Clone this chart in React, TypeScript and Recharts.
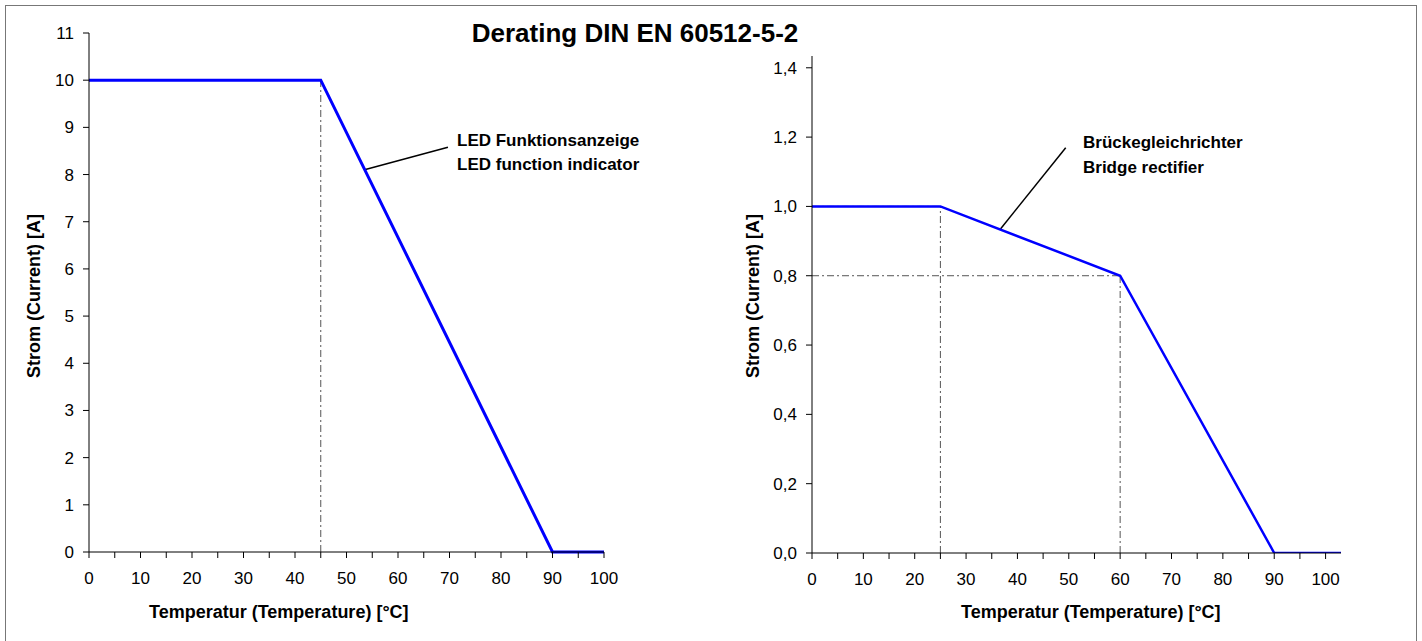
import React from 'react';
import { LineChart, Line, XAxis, YAxis, ReferenceLine } from 'recharts';

// left chart: LED function indicator
const ledTemps = [0, 45, 90, 100];
const ledCurrent = [10, 10, 0, 0];
const ledXTicks = [0, 5, 10, 15, 20, 25, 30, 35, 40, 45, 50, 55, 60, 65, 70, 75, 80, 85, 90, 95, 100];
const ledYTicks = [0, 1, 2, 3, 4, 5, 6, 7, 8, 9, 10, 11];
const ledGuides = [
    [{ x: 45, y: 0 }, { x: 45, y: 10 }],
    [{ x: 0, y: 10 }, { x: 45, y: 10 }],
];
const ledLeader = [{ x: 53.5, y: 8.1 }, { x: 69.7, y: 8.58 }];

// right chart: bridge rectifier
const bridgeTemps = [0, 25, 60, 90, 103];
const bridgeCurrent = [1, 1, 0.8, 0, 0];
const bridgeXTicks = [0, 5, 10, 15, 20, 25, 30, 35, 40, 45, 50, 55, 60, 65, 70, 75, 80, 85, 90, 95, 100];
const bridgeYTicks = [0, 0.2, 0.4, 0.6, 0.8, 1.0, 1.2, 1.4];
const bridgeGuides = [
    [{ x: 25, y: 0 }, { x: 25, y: 1 }],
    [{ x: 0, y: 1 }, { x: 25, y: 1 }],
    [{ x: 60, y: 0 }, { x: 60, y: 0.8 }],
    [{ x: 0, y: 0.8 }, { x: 60, y: 0.8 }],
];
const bridgeLeader = [{ x: 36.7, y: 0.935 }, { x: 49.4, y: 1.169 }];

const ledData = ledTemps.map((t, i) => ({ t, current: ledCurrent[i] }));
const bridgeData = bridgeTemps.map((t, i) => ({ t, current: bridgeCurrent[i] }));

const FONT = '"Liberation Sans", Arial, sans-serif';
const tickStyle = { fontSize: 17, fill: '#000' };
const guideDash = '7 3 2 3';

const xTickFormat = (v: number) => (v % 10 === 0 ? String(v) : '');
const commaFormat = (v: number) => v.toFixed(1).replace('.', ',');

const App: React.FC = () => {
    return (
        <div style={{ position: 'absolute', left: 0, top: 0, width: 1422, height: 641, background: '#fff', fontFamily: FONT, overflow: 'hidden' }}>
            <div style={{ position: 'absolute', left: 5, top: 5, width: 1410, height: 650, border: '1px solid #777' }} />

            <div style={{ position: 'absolute', left: 0, top: 0 }}>
                <LineChart width={700} height={641} data={ledData} margin={{ top: 33, right: 96, left: 49, bottom: 59 }}>
                    <XAxis
                        type="number"
                        dataKey="t"
                        domain={[0, 100]}
                        ticks={ledXTicks}
                        interval={0}
                        tickFormatter={xTickFormat}
                        tick={tickStyle}
                        tickSize={6}
                        tickMargin={14}
                        height={30}
                        axisLine={{ stroke: '#000' }}
                        tickLine={{ stroke: '#000' }}
                    />
                    <YAxis
                        type="number"
                        domain={[0, 11]}
                        ticks={ledYTicks}
                        interval={0}
                        tick={tickStyle}
                        tickSize={6}
                        tickMargin={9}
                        width={40}
                        axisLine={{ stroke: '#000' }}
                        tickLine={{ stroke: '#000' }}
                    />
                    {ledGuides.map((seg, i) => (
                        <ReferenceLine key={i} segment={seg} stroke="#555" strokeDasharray={guideDash} />
                    ))}
                    <ReferenceLine segment={ledLeader} stroke="#000" strokeWidth={1.5} />
                    <Line type="linear" dataKey="current" stroke="#0000ff" strokeWidth={3} dot={false} isAnimationActive={false} />
                </LineChart>
            </div>

            <div style={{ position: 'absolute', left: 700, top: 0 }}>
                <LineChart width={722} height={641} data={bridgeData} margin={{ top: 56, right: 81, left: 62, bottom: 58 }}>
                    <XAxis
                        type="number"
                        dataKey="t"
                        domain={[0, 103]}
                        ticks={bridgeXTicks}
                        interval={0}
                        tickFormatter={xTickFormat}
                        tick={tickStyle}
                        tickSize={6}
                        tickMargin={14}
                        height={30}
                        axisLine={{ stroke: '#000' }}
                        tickLine={{ stroke: '#000' }}
                    />
                    <YAxis
                        type="number"
                        domain={[0, 1.434]}
                        ticks={bridgeYTicks}
                        interval={0}
                        tickFormatter={commaFormat}
                        tick={tickStyle}
                        tickSize={6}
                        tickMargin={9}
                        width={50}
                        allowDataOverflow
                        axisLine={{ stroke: '#000' }}
                        tickLine={{ stroke: '#000' }}
                    />
                    {bridgeGuides.map((seg, i) => (
                        <ReferenceLine key={i} segment={seg} stroke="#555" strokeDasharray={guideDash} />
                    ))}
                    <ReferenceLine segment={bridgeLeader} stroke="#000" strokeWidth={1.5} />
                    <Line type="linear" dataKey="current" stroke="#0000ff" strokeWidth={2.5} dot={false} isAnimationActive={false} />
                </LineChart>
            </div>

            <svg width={1422} height={641} style={{ position: 'absolute', left: 0, top: 0, pointerEvents: 'none' }}>
                <text x={635} y={42} textAnchor="middle" fontSize={26} fontWeight="bold" fill="#000">
                    Derating DIN EN 60512-5-2
                </text>

                <text x={457} y={146} fontSize={17} fontWeight="bold" fill="#000">LED Funktionsanzeige</text>
                <text x={457} y={170} fontSize={17} fontWeight="bold" fill="#000">LED function indicator</text>
                <text x={1083} y={148} fontSize={17} fontWeight="bold" fill="#000">Brückegleichrichter</text>
                <text x={1083} y={173} fontSize={17} fontWeight="bold" fill="#000">Bridge rectifier</text>

                <text x={149} y={618} fontSize={18} fontWeight="bold" fill="#000">Temperatur (Temperature) [°C]</text>
                <text x={961} y={618} fontSize={18} fontWeight="bold" fill="#000">Temperatur (Temperature) [°C]</text>

                <text transform="translate(40,296) rotate(-90)" textAnchor="middle" fontSize={18} fontWeight="bold" fill="#000">
                    Strom (Current) [A]
                </text>
                <text transform="translate(759,296) rotate(-90)" textAnchor="middle" fontSize={18} fontWeight="bold" fill="#000">
                    Strom (Current) [A]
                </text>
            </svg>
        </div>
    );
};

export default App;
